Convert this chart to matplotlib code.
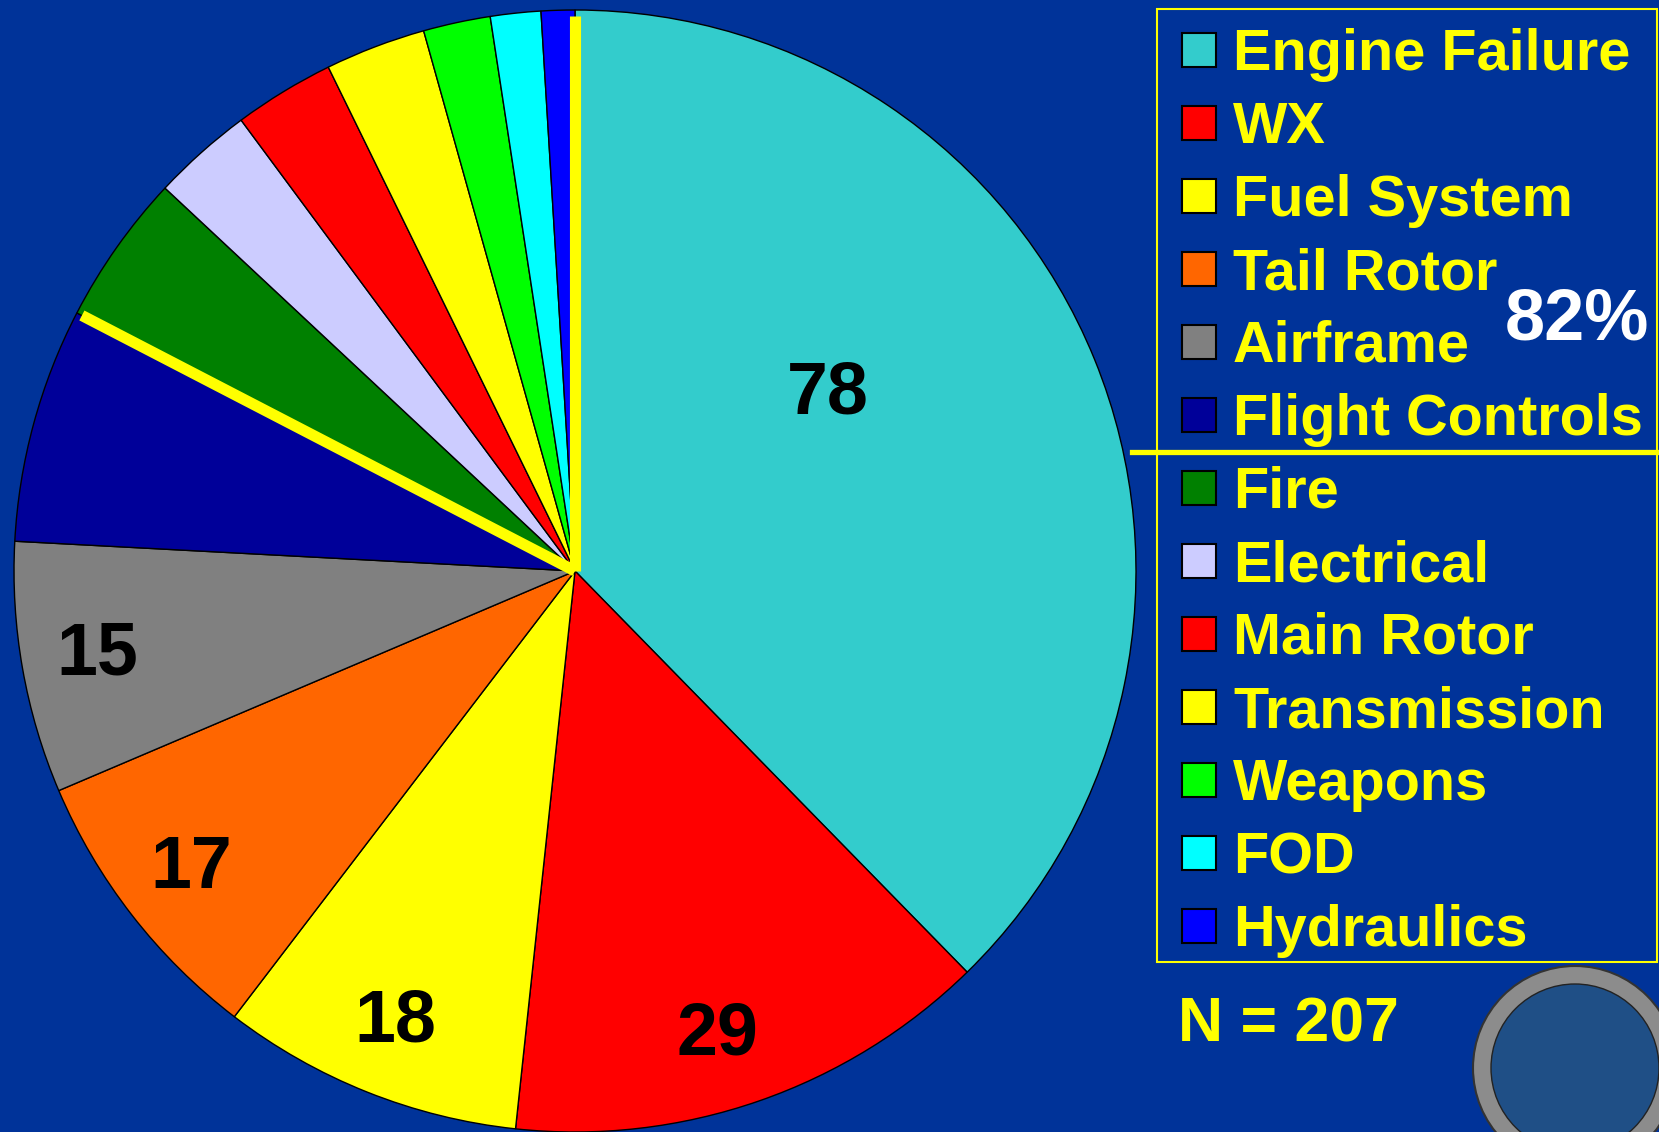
import numpy as np
import matplotlib.pyplot as plt
from matplotlib.patches import Rectangle, Circle

# ---- data ----
categories = ['Engine Failure', 'WX', 'Fuel System', 'Tail Rotor', 'Airframe',
              'Flight Controls', 'Fire', 'Electrical', 'Main Rotor',
              'Transmission', 'Weapons', 'FOD', 'Hydraulics']
counts = [78, 29, 18, 17, 15, 14, 9, 6, 6, 6, 4, 3, 2]
colors = ['#33CCCC', '#FF0000', '#FFFF00', '#FF6600', '#808080', '#000099',
          '#008000', '#CCCCFF', '#FF0000', '#FFFF00', '#00FF00', '#00FFFF',
          '#0000FF']
shown_labels = 5          # only the five biggest wedges carry their count
top_group = 6             # Engine Failure .. Flight Controls = 82%
total = sum(counts)

BG = '#003399'
YEL = '#FFFF00'
W, H = 1659, 1132

plt.rcParams['font.family'] = ['Liberation Sans', 'DejaVu Sans']
fig = plt.figure(figsize=(W / 100, H / 100), dpi=100, facecolor=BG)

# ---- pie ----
cx, cy, r = 575, 571, 561
ax = fig.add_axes([(cx - r) / W, (H - cy - r) / H, 2 * r / W, 2 * r / H])
ax.set_facecolor('none')
wedges, _ = ax.pie(counts, colors=colors, startangle=90, counterclock=False,
                   radius=1, wedgeprops=dict(edgecolor='black', linewidth=1.0))
ax.set_xlim(-1, 1)
ax.set_ylim(-1, 1)

for i, w in enumerate(wedges[:shown_labels]):
    mid = np.deg2rad((w.theta1 + w.theta2) / 2)
    dist = 0.865
    if i == 0:
        mid = np.deg2rad(35)
        dist = 0.55
    elif i == 1:
        mid -= np.deg2rad(2)
    ax.text(dist * np.cos(mid), dist * np.sin(mid), str(counts[i]),
            ha='center', va='center', fontsize=53, fontweight='bold',
            color='black')

# yellow separators for the 82% group
for ang in [90, 90 - 360 * sum(counts[:top_group]) / total]:
    a = np.deg2rad(ang)
    ax.plot([0, 0.99 * np.cos(a)], [0, 0.99 * np.sin(a)], color=YEL,
            lw=8, solid_capstyle='butt', zorder=5)

# ---- legend / annotations in pixel coords ----
lay = fig.add_axes([0, 0, 1, 1])
lay.set_xlim(0, W)
lay.set_ylim(H, 0)
lay.axis('off')
lay.set_facecolor('none')

lay.add_patch(Rectangle((1157, 9), 500, 953, fill=False, edgecolor=YEL, lw=1.5))
row0, step = 50, 73
for i, (cat, col) in enumerate(zip(categories, colors)):
    yc = row0 + step * i
    lay.add_patch(Rectangle((1182, yc - 17), 34, 34, facecolor=col,
                            edgecolor='black', lw=1.5))
    lay.text(1233, yc + 20, cat, color=YEL, fontsize=41.5, fontweight='bold',
             ha='left', va='baseline')

lay.plot([1132, W], [452, 452], color=YEL, lw=3.8)
pct = int(100 * sum(counts[:top_group]) / total)
lay.text(1577, 320, f'{pct}%', color='white', fontsize=52, fontweight='bold',
         ha='center', va='center')
lay.text(1178, 1042, f'N = {total}', color=YEL, fontsize=45, fontweight='bold',
         ha='left', va='baseline')

# logo stand-in
lay.add_patch(Circle((1575, 1068), 102, facecolor='#8c8c8c', edgecolor='#333333', lw=1.5))
lay.add_patch(Circle((1575, 1068), 84, facecolor='#1f4f86', edgecolor='#222222', lw=1))

fig.savefig('out.png', dpi=100, facecolor=BG)
